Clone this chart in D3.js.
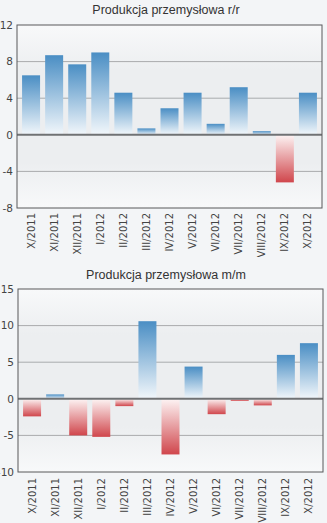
<!DOCTYPE html>
<html><head><meta charset="utf-8">
<script src="https://cdn.jsdelivr.net/npm/d3@7"></script>
<style>
html,body{margin:0;padding:0;background:#f3f5f7;}
svg{display:block;}
</style></head>
<body>
<svg id="c" width="327" height="523"></svg>
<script>
const categories = ["X/2011","XI/2011","XII/2011","I/2012","II/2012","III/2012","IV/2012","V/2012","VI/2012","VII/2012","VIII/2012","IX/2012","X/2012"];
const valuesYoY = [6.5, 8.7, 7.7, 9.0, 4.6, 0.7, 2.9, 4.6, 1.2, 5.2, 0.4, -5.2, 4.6];
const valuesMoM = [-2.4, 0.6, -5.0, -5.2, -1.0, 10.6, -7.6, 4.4, -2.1, -0.3, -0.9, 6.0, 7.6];
const ticksYoY = [12, 8, 4, 0, -4, -8];
const ticksMoM = [15, 10, 5, 0, -5, -10];
const titleYoY = "Produkcja przemysłowa r/r";
const titleMoM = "Produkcja przemysłowa m/m";

const fmt = d3.formatLocale({decimal:".",thousands:"",grouping:[3],currency:["",""],minus:"-"}).format("d");
const svg = d3.select("#c");
const defs = svg.append("defs");
const gb = defs.append("linearGradient").attr("id","gBlue").attr("x1",0).attr("y1",0).attr("x2",0).attr("y2",1);
gb.append("stop").attr("offset","0%").attr("stop-color","#4a8ec4");
gb.append("stop").attr("offset","100%").attr("stop-color","#f2f7fb");
const gr = defs.append("linearGradient").attr("id","gRed").attr("x1",0).attr("y1",0).attr("x2",0).attr("y2",1);
gr.append("stop").attr("offset","0%").attr("stop-color","#fdf4f4");
gr.append("stop").attr("offset","100%").attr("stop-color","#d0464c");
const gbg = defs.append("linearGradient").attr("id","gBg").attr("x1",0).attr("y1",0).attr("x2",0).attr("y2",1);
gbg.append("stop").attr("offset","0%").attr("stop-color","#f8f9fa");
gbg.append("stop").attr("offset","25%").attr("stop-color","#eceef0");
gbg.append("stop").attr("offset","75%").attr("stop-color","#eceef0");
gbg.append("stop").attr("offset","100%").attr("stop-color","#f8f9fa");

function chart(opt){
  const g = svg.append("g");
  const {L,R,T,B,values,ticks,title,titleY,labelGap,clipY} = opt;
  g.append("text").attr("x",166).attr("y",titleY).attr("text-anchor","middle")
    .attr("font-family","Liberation Sans, Arial, sans-serif").attr("font-size",12.5).attr("fill","#333").text(title);
  const y = d3.scaleLinear().domain([d3.min(ticks), d3.max(ticks)]).range([B, T]);
  const x = d3.scaleBand().domain(categories).range([L, R]).paddingInner(0.22).paddingOuter(0.22);
  g.append("rect").attr("x",L).attr("y",T).attr("width",R-L).attr("height",B-T).attr("fill","url(#gBg)");
  g.selectAll(".grid").data(ticks.filter(t=>t!==0 && t!==d3.min(ticks) && t!==d3.max(ticks))).join("line")
    .attr("x1",L).attr("x2",R).attr("y1",d=>y(d)).attr("y2",d=>y(d)).attr("stroke","#a9abad").attr("stroke-width",1);
  g.selectAll(".bar").data(values).join("rect")
    .attr("x",(d,i)=>x(categories[i]))
    .attr("width",x.bandwidth())
    .attr("y",d=>d>=0?y(d):y(0))
    .attr("height",d=>Math.abs(y(d)-y(0)))
    .attr("fill",d=>d>=0?"url(#gBlue)":"url(#gRed)");
  g.append("line").attr("x1",L).attr("x2",R).attr("y1",y(0)).attr("y2",y(0)).attr("stroke","#707274").attr("stroke-width",2);
  g.append("rect").attr("x",L).attr("y",T).attr("width",R-L).attr("height",B-T).attr("fill","none").attr("stroke","#58595b").attr("stroke-width",1);
  const ya = d3.axisLeft(y).tickValues(ticks).tickFormat(fmt).tickSize(0).tickPadding(4);
  const yg = g.append("g").attr("transform",`translate(${L},0)`).call(ya);
  yg.select(".domain").remove();
  yg.selectAll("text").attr("font-family","DejaVu Sans, Verdana, sans-serif").attr("font-size",10.5).attr("fill","#444");
  const clipId = "clip"+titleY;
  defs.append("clipPath").attr("id",clipId).append("rect").attr("x",0).attr("y",0).attr("width",327).attr("height",clipY-B);
  const xa = d3.axisBottom(x).tickSize(0).tickPadding(0);
  const xg = g.append("g").attr("transform",`translate(0,${B})`).attr("clip-path",`url(#${clipId})`).call(xa);
  xg.select(".domain").remove();
  xg.selectAll("text").attr("font-family","DejaVu Sans, Verdana, sans-serif").attr("font-size",10).attr("fill","#444")
    .attr("text-anchor","end").attr("dy","0.35em").attr("y",0).attr("x",0)
    .attr("transform",`translate(0,${labelGap}) rotate(-90)`);
}
chart({L:17,R:322,T:25,B:208,values:valuesYoY,ticks:ticksYoY,title:titleYoY,titleY:14,labelGap:5,clipY:257});
chart({L:18,R:323,T:289,B:472,values:valuesMoM,ticks:ticksMoM,title:titleMoM,titleY:279,labelGap:6,clipY:523});
</script>
</body></html>
